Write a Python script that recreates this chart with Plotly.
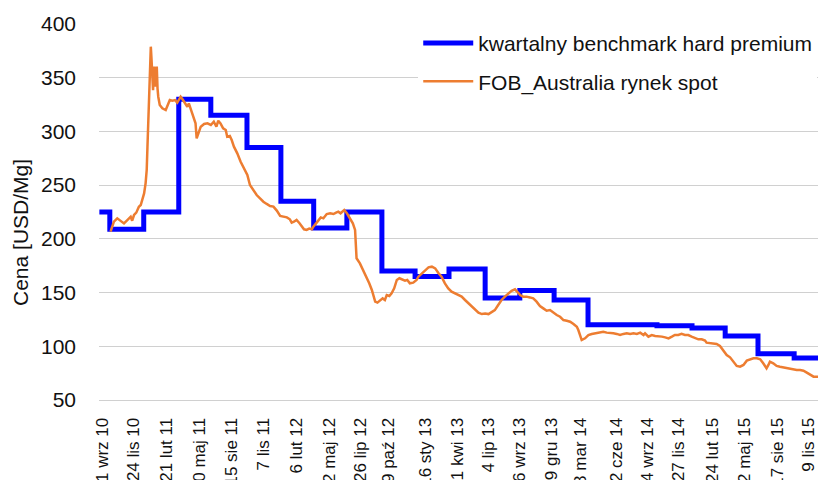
import pandas as pd
import plotly.graph_objects as go

# --- quarterly benchmark (hard premium coking coal), step series ---
bench_dates = ["2010-08-25", "2010-09-22", "2010-12-22", "2011-03-26", "2011-06-20",
               "2011-09-25", "2011-12-25", "2012-03-22", "2012-06-19", "2012-09-21",
               "2012-12-19", "2013-03-20", "2013-06-25", "2013-09-26", "2013-12-27",
               "2014-03-28", "2014-09-29", "2015-01-01", "2015-03-31", "2015-06-27",
               "2015-10-02", "2015-12-31"]
bench_values = [225, 209, 225, 330, 315, 285, 235, 210, 225, 170, 165, 172, 145, 152,
                143, 120, 119, 117, 109.5, 93, 89, 89]

# --- FOB Australia spot market (days since 2010-09-01, USD/Mg) ---
spot_start = "2010-09-01"
spot_days = [23, 32, 41, 50, 59, 68, 77, 81, 86, 92, 99, 104, 108, 113, 117, 120, 122, 124,
             126, 128, 130, 131, 133, 135, 137, 139, 140, 142, 144, 146, 147, 149, 151, 155,
             162, 171, 175, 182, 189, 196, 202, 207, 211, 216, 220, 224, 229, 233, 241, 247,
             251, 254, 258, 265, 274, 283, 292, 300, 307, 312, 318, 325, 332, 336, 343, 348,
             354, 363, 372, 381, 390,
             397, 406, 415, 424, 433, 442, 451, 460, 469, 478, 487, 496, 504, 509, 515, 522,
             530, 536, 542, 549, 556, 563, 567, 576, 581, 587, 594, 603, 612, 621, 628, 634,
             640, 646, 650, 657, 665, 673, 679, 682, 683, 692, 701, 710, 717, 724, 728, 733,
             739, 746, 753, 759, 764, 771, 777, 784, 791, 798, 807, 813, 819, 826, 835, 844,
             849, 858, 867, 876, 885, 894, 902, 911, 920, 929, 938, 947, 956, 965, 974, 983,
             992, 1001, 1010, 1019, 1028, 1037, 1046, 1054, 1063, 1072, 1081, 1090, 1099,
             1108, 1114, 1122, 1130, 1139, 1148, 1157, 1166, 1175, 1184, 1193, 1202, 1211,
             1220, 1229, 1238, 1247, 1256, 1265, 1274, 1278, 1283, 1287, 1296, 1305, 1314,
             1323, 1332,
             1345, 1354, 1363, 1372, 1381, 1390, 1399, 1408, 1417, 1426, 1435, 1444, 1453,
             1457, 1466, 1475, 1484, 1493, 1502, 1511, 1520, 1529, 1537, 1546, 1555, 1564,
             1573, 1582, 1591, 1600, 1609, 1618, 1622, 1631, 1640, 1649, 1658, 1667, 1676,
             1685, 1694, 1703, 1712, 1721, 1730, 1739, 1748, 1757, 1766, 1774, 1783, 1788,
             1792, 1801, 1810, 1819, 1828, 1837, 1846, 1855, 1864, 1873, 1882, 1891, 1900,
             1909, 1921]
spot_values = [206.7, 216.0, 219.1, 216.9, 214.4, 217.5, 220.6, 216.9, 222.2, 224.4, 229.9,
               231.5, 236.2, 242.3, 251.7, 264.1, 285.8, 307.5, 332.3, 351.0, 369.6, 378.9,
               366.5, 354.1, 338.5, 354.1, 360.3, 341.6, 351.0, 357.2, 360.3, 340.1, 332.3,
               324.6, 321.5, 319.9, 323.0, 329.2, 328.6, 329.2, 326.8, 330.8, 332.3, 329.9,
               327.7, 324.6, 323.0, 326.1, 318.4, 312.2, 307.5, 293.5, 298.2, 304.4, 306.9,
               307.5, 306.0, 309.1, 304.4, 310.0, 307.5, 302.9, 301.3, 295.1, 295.7, 292.0,
               285.8, 279.6, 271.8, 265.6, 259.4,
               250.1, 245.5, 240.8, 237.7, 234.6, 232.5, 230.6, 230.0, 226.3, 221.3, 220.7,
               220.0, 218.2, 215.1, 216.0, 217.6, 214.5, 211.4, 208.9, 208.3, 209.5, 208.9,
               211.4, 215.1, 217.0, 220.0, 219.1, 223.1, 223.8, 223.1, 224.4, 225.3, 223.8,
               226.3, 226.9, 223.8, 219.1, 214.5, 208.3, 192.7, 181.9, 177.2, 171.0, 164.8,
               158.6, 152.4, 146.2, 141.5, 140.6, 142.5, 144.6, 143.1, 147.7, 146.8, 149.3,
               153.9, 161.7, 163.3, 161.7, 161.1, 161.7, 158.6, 159.2, 161.7,
               164.8, 167.9, 171.0, 173.5, 174.1, 172.5, 168.5, 164.8, 158.6, 153.9, 150.8,
               149.3, 147.7, 146.2, 143.1, 139.9, 137.5, 134.4, 131.3, 130.0, 130.6, 130.0,
               132.2, 133.7, 138.4, 143.1, 146.2, 149.3, 151.7, 153.0, 150.8, 147.7, 146.2,
               146.2, 145.5, 144.6, 141.5, 137.5, 135.3, 133.1, 133.7, 131.3, 129.1, 127.5,
               124.4, 123.8, 122.9, 120.7, 118.2, 115.1, 108.9, 105.8, 107.4, 110.5, 111.4,
               112.0, 112.7,
               113.6, 112.7, 112.7, 112.1, 111.5, 110.5, 111.5, 112.1, 111.5, 112.1, 111.5,
               112.7, 110.5, 112.1, 109.0, 110.5, 109.6, 109.6, 109.0, 108.3, 107.4, 109.0,
               110.5, 110.5, 111.5, 110.5, 110.5, 109.0, 107.4, 106.5, 106.5, 105.3, 103.4,
               102.8, 102.8, 102.1, 100.3, 96.6, 91.9, 89.7, 85.7, 81.7, 81.0, 82.6, 86.6,
               87.9, 88.8, 88.8, 87.9, 84.2, 79.5, 82.6, 85.7, 84.2, 81.7, 81.0, 80.4, 79.5,
               78.6, 78.6, 77.9, 77.9, 77.3, 75.5, 73.3, 71.7, 71.7]

# --- axis tick labels (Polish dates) ---
tick_dates = ["2010-09-01", "2010-11-24", "2011-02-21", "2011-05-20", "2011-08-15",
              "2011-11-07", "2012-02-06", "2012-05-02", "2012-07-26", "2012-10-09",
              "2013-01-16", "2013-04-11", "2013-07-04", "2013-09-26", "2013-12-19",
              "2014-03-08", "2014-06-12", "2014-09-04", "2014-11-27", "2015-02-24",
              "2015-05-22", "2015-08-17", "2015-11-09"]
tick_labels = ["1 wrz 10", "24 lis 10", "21 lut 11", "20 maj 11", "15 sie 11", "7 lis 11",
               "6 lut 12", "2 maj 12", "26 lip 12", "9 paź 12", "16 sty 13", "11 kwi 13",
               "4 lip 13", "26 wrz 13", "19 gru 13", "8 mar 14", "12 cze 14", "4 wrz 14",
               "27 lis 14", "24 lut 15", "22 maj 15", "17 sie 15", "9 lis 15"]

spot_dates = pd.Timestamp(spot_start) + pd.to_timedelta(spot_days, unit="D")

FONT = "Liberation Sans, Arial, sans-serif"
TXT = "#111111"

fig = go.Figure()
fig.add_trace(go.Scatter(
    x=pd.to_datetime(bench_dates), y=bench_values, mode="lines",
    line=dict(color="#0000FF", width=5, shape="hv"),
    name="kwartalny benchmark hard premium", legendgroup="a"))
fig.add_trace(go.Scatter(
    x=spot_dates, y=spot_values, mode="lines",
    line=dict(color="#ED7D31", width=2.5),
    name="FOB_Australia rynek spot", legendgroup="b"))

fig.update_layout(
    width=818, height=480,
    margin=dict(l=99, r=0, t=24, b=80),
    paper_bgcolor="white", plot_bgcolor="white",
    font=dict(family=FONT, color=TXT, size=20),
    showlegend=True,
    legend=dict(x=0.444, y=1.003, xanchor="left", yanchor="top",
                bgcolor="white", font=dict(size=21, family=FONT, color=TXT),
                tracegroupgap=8, itemwidth=50),
)
fig.update_xaxes(
    type="date", range=["2010-08-24", "2015-12-05"],
    tickmode="array", tickvals=pd.to_datetime(tick_dates), ticktext=tick_labels,
    tickangle=-90, tickfont=dict(size=17, family=FONT, color=TXT),
    showgrid=False, showline=True, linecolor="#d0d0d0", linewidth=1,
    ticks="", zeroline=False, ticklabelstandoff=10, automargin=False,
    ticklabeloverflow="allow")
fig.update_yaxes(
    range=[50, 400], dtick=50, tick0=50,
    showgrid=True, gridcolor="#d0d0d0", gridwidth=1,
    zeroline=False, showline=False, ticks="",
    tickfont=dict(size=21, family=FONT, color=TXT), ticklabelstandoff=22,
    automargin=False)
fig.add_annotation(
    text="Cena [USD/Mg]", textangle=-90, xref="paper", yref="paper",
    x=-0.1099, y=(400 - 232) / 376, xanchor="center", yanchor="middle",
    showarrow=False, font=dict(size=21, family=FONT, color=TXT))

fig.write_html(
    "out.html",
    config={"displayModeBar": False},
    post_script="document.body.style.margin='0';document.body.style.overflow='hidden';")
